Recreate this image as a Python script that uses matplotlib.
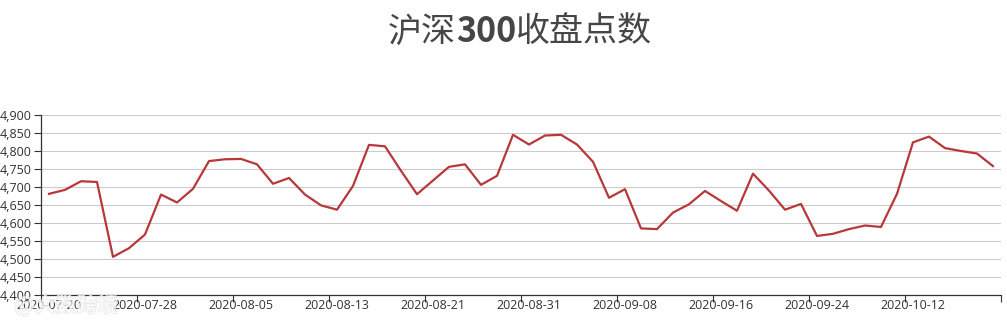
import matplotlib
matplotlib.use("Agg")
import matplotlib.pyplot as plt
import matplotlib.patheffects as pe
from matplotlib.ticker import FuncFormatter, FixedLocator

# =========================
# DATA
# =========================
DATES = [
    "2020-07-20", "2020-07-21", "2020-07-22", "2020-07-23", "2020-07-24",
    "2020-07-27", "2020-07-28", "2020-07-29", "2020-07-30", "2020-07-31",
    "2020-08-03", "2020-08-04", "2020-08-05", "2020-08-06", "2020-08-07",
    "2020-08-10", "2020-08-11", "2020-08-12", "2020-08-13", "2020-08-14",
    "2020-08-17", "2020-08-18", "2020-08-19", "2020-08-20", "2020-08-21",
    "2020-08-24", "2020-08-25", "2020-08-26", "2020-08-27", "2020-08-28",
    "2020-08-31", "2020-09-01", "2020-09-02", "2020-09-03", "2020-09-04",
    "2020-09-07", "2020-09-08", "2020-09-09", "2020-09-10", "2020-09-11",
    "2020-09-14", "2020-09-15", "2020-09-16", "2020-09-17", "2020-09-18",
    "2020-09-21", "2020-09-22", "2020-09-23", "2020-09-24", "2020-09-25",
    "2020-09-28", "2020-09-29", "2020-09-30", "2020-10-09", "2020-10-12",
    "2020-10-13", "2020-10-14", "2020-10-15", "2020-10-16", "2020-10-19",
]

CLOSE = [
    4681, 4692, 4716, 4714, 4506, 4530, 4568, 4679, 4657, 4695,
    4772, 4777, 4778, 4763, 4709, 4725, 4679, 4649, 4637, 4703,
    4817, 4813, 4745, 4680, 4718, 4756, 4763, 4706, 4731, 4845,
    4818, 4843, 4845, 4818, 4770, 4670, 4694, 4585, 4583, 4629,
    4652, 4689, 4661, 4634, 4737, 4690, 4637, 4653, 4564, 4570,
    4583, 4593, 4589, 4681, 4824, 4840, 4808, 4800, 4793, 4758,
]

Y_TICKS = [4400, 4450, 4500, 4550, 4600, 4650, 4700, 4750, 4800, 4850, 4900]
LABEL_EVERY = 6

TITLE_PARTS = ["沪深", "300", "收盘点数"]
WATERMARK = "@大数跨境"

# =========================
# STYLE
# =========================
W, H = 1007, 322
LINE_COLOR = "#b8383a"
AXIS_COLOR = "#333333"
GRID_COLOR = "#cccccc"
TEXT_COLOR = "#333333"
TITLE_COLOR = "#464646"
CJK = ["Noto Sans CJK SC", "DejaVu Sans"]
TICK_FONT = ["Open Sans", "DejaVu Sans"]


def main():
    plt.rcParams["font.family"] = CJK

    fig = plt.figure(figsize=(W / 100, H / 100), dpi=100)
    ax = fig.add_axes([41 / W, (H - 295) / H, (1001 - 41) / W, (295 - 115) / H])

    x = list(range(len(DATES)))
    ax.plot(x, CLOSE, color=LINE_COLOR, linewidth=1.6, zorder=3)

    ax.set_xlim(-0.5, len(DATES) - 0.5)
    ax.set_ylim(Y_TICKS[0], Y_TICKS[-1])

    # grid + y axis
    ax.set_yticks(Y_TICKS)
    ax.yaxis.set_major_formatter(FuncFormatter(lambda v, p: f"{int(v):,}"))
    ax.grid(axis="y", color=GRID_COLOR, linewidth=0.8, zorder=0)
    ax.tick_params(axis="y", length=5, width=0.8, color=AXIS_COLOR, pad=2,
                   labelsize=9, labelcolor=TEXT_COLOR)

    # x axis: ticks on band boundaries, labels on band centers
    bounds = [i - 0.5 for i in range(0, len(DATES) + 1, LABEL_EVERY)]
    centers = list(range(0, len(DATES), LABEL_EVERY))
    ax.xaxis.set_major_locator(FixedLocator(bounds))
    ax.set_xticklabels([""] * len(bounds))
    ax.xaxis.set_minor_locator(FixedLocator(centers))
    ax.set_xticklabels([DATES[i] for i in centers], minor=True)
    ax.tick_params(axis="x", which="major", length=5, width=0.8, color=AXIS_COLOR)
    ax.tick_params(axis="x", which="minor", length=0, pad=3, labelsize=9,
                   labelcolor=TEXT_COLOR)

    for lbl in ax.get_yticklabels() + ax.get_xticklabels(minor=True):
        lbl.set_family(TICK_FONT)

    for side in ["top", "right"]:
        ax.spines[side].set_visible(False)
    for side in ["left", "bottom"]:
        ax.spines[side].set_color(AXIS_COLOR)
        ax.spines[side].set_linewidth(0.9)
    ax.set_axisbelow(True)

    # title, "300" in bold, drawn piece by piece
    fig.canvas.draw()
    renderer = fig.canvas.get_renderer()
    weights = ["normal", "bold", "normal"]
    texts = []
    for part, wgt in zip(TITLE_PARTS, weights):
        t = fig.text(0, 1 - 32 / H, part, fontsize=24.5, color=TITLE_COLOR,
                     fontweight=wgt, va="center", ha="left")
        texts.append(t)
    widths = [t.get_window_extent(renderer).width for t in texts]
    start = 520 - sum(widths) / 2
    for t, w in zip(texts, widths):
        t.set_x(start / W)
        start += w

    # faint watermark in the bottom-left corner
    fig.text(14 / W, 1 - 305 / H, WATERMARK, fontsize=15, color="#ffffff",
             alpha=0.5, va="center", ha="left", fontweight="bold",
             path_effects=[pe.withStroke(linewidth=0.8, foreground="#d0d0d0")])

    fig.savefig("out.png", dpi=100)
    plt.close(fig)


if __name__ == "__main__":
    main()
